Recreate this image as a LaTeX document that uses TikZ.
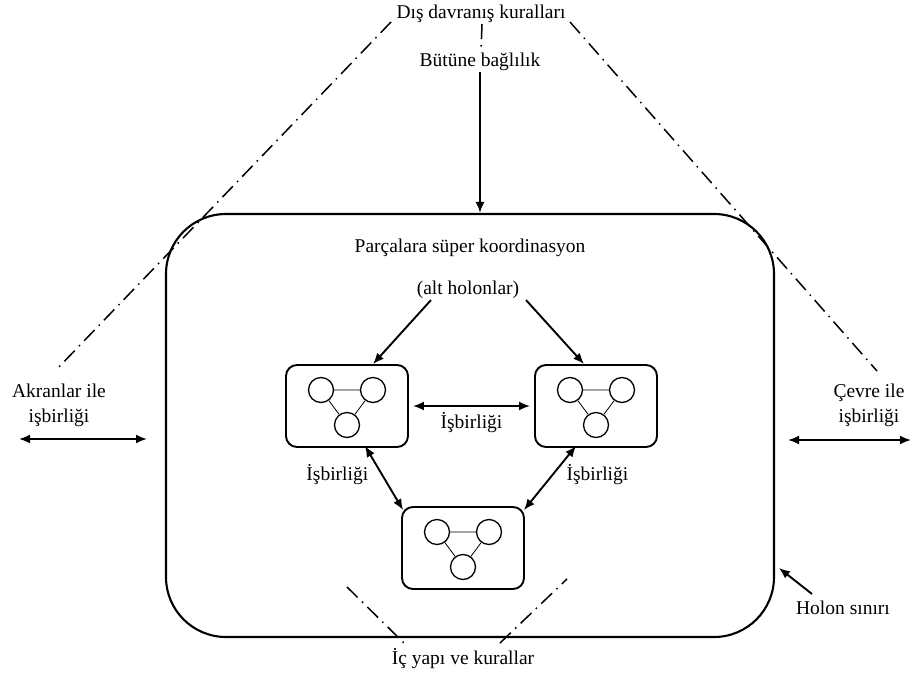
\documentclass[tikz,border=0pt]{standalone}
\usepackage{fontspec}
\setmainfont{Liberation Serif}
\usetikzlibrary{arrows.meta}
\tikzset{
	lbl/.style={font=\fontsize{19.5}{25}\selectfont,inner sep=1pt,align=center},
	holon/.style={draw,line width=1.9pt,rounded corners=11pt,minimum width=122pt,minimum height=82pt},
	part/.style={draw,line width=1.3pt,circle,minimum size=25pt,inner sep=0pt},
	dashdot/.style={line width=1.5pt,dash pattern=on 15pt off 6pt on 1.5pt off 6pt},
	arr/.style={line width=1.9pt,-{Latex[length=11pt,width=9pt]}},
	darr/.style={line width=1.9pt,{Latex[length=11pt,width=9pt]}-{Latex[length=11pt,width=9pt]}}
}
\begin{document}
\begin{tikzpicture}[x=1pt,y=-1pt]
	\useasboundingbox (0,0) rectangle (912,677);
	% outer holon boundary
	\node[draw,line width=2.1pt,rounded corners=60pt,minimum width=608pt,minimum height=423pt] (whole) at (470,425.5) {};
	% texts
	\node[lbl] (dis) at (481,14) {Dış davranış kuralları};
	\node[lbl] (butun) at (480,62) {Bütüne bağlılık};
	\node[lbl] (koord) at (470,248) {Parçalara süper koordinasyon};
	\node[lbl] (alt) at (468,290) {(alt holonlar)};
	\node[lbl] (akran) at (59,405) {Akranlar ile\\işbirliği};
	\node[lbl] (cevre) at (869,405) {Çevre ile\\işbirliği};
	\node[lbl] (sinir) at (843,608) {Holon sınırı};
	\node[lbl] (ic) at (463,659) {İç yapı ve kurallar};
	% sub holons
	\node[holon] (h1) at (347,406) {};
	\node[holon] (h2) at (596,406) {};
	\node[holon] (h3) at (463,548) {};
	\foreach \h in {h1,h2,h3}{
		\node[part] (\h a) at ([shift={(-26pt,16pt)}]\h.center) {};
		\node[part] (\h b) at ([shift={(26pt,16pt)}]\h.center) {};
		\node[part] (\h c) at ([shift={(0pt,-19pt)}]\h.center) {};
		\draw[line width=0.8pt] (\h a) -- (\h b) (\h a) -- (\h c) (\h b) -- (\h c);
	}
	% rules lines
	\coordinate (ltop) at (391,22);
	\coordinate (rtop) at (570,22);
	\coordinate (lend) at (57,369);
	\coordinate (rend) at (877,371);
	\coordinate (bl1) at (347,587);
	\coordinate (bl2) at (406,645);
	\coordinate (br1) at (567,579);
	\coordinate (br2) at (500,643);
	\draw[dashdot] (ltop) -- (lend);
	\draw[dashdot] (rtop) -- (rend);
	\draw[dashdot] ([xshift=1pt]dis.south) -- ([xshift=1pt]butun.north);
	\draw[dashdot] (bl1) -- (bl2);
	\draw[dashdot] (br2) -- (br1);
	% arrows
	\draw[arr] (butun.south) -- (whole.north -| butun.south);
	\draw[arr] ([xshift=-37pt]alt.south) -- ([xshift=26pt]h1.north);
	\draw[arr] ([xshift=58pt]alt.south) -- ([xshift=-12pt]h2.north);
	\draw[darr] ([xshift=4pt]h1.east) -- ([xshift=-4pt]h2.west) node[lbl,midway,below=4pt] {İşbirliği};
	\draw[darr] ([shift={(18pt,2pt)}]h1.south) -- ([shift={(2pt,-4pt)}]h3.north west) node[lbl,pos=0.45,left=12pt] {İşbirliği};
	\draw[darr] ([shift={(-20pt,2pt)}]h2.south) -- ([shift={(-1pt,-4pt)}]h3.north east) node[lbl,pos=0.45,right=12pt] {İşbirliği};
	\coordinate (la) at (19,439);
	\coordinate (lb) at (147,439);
	\coordinate (ra) at (788,440);
	\coordinate (rb) at (911,440);
	\draw[darr] (la) -- (lb);
	\draw[darr] (ra) -- (rb);
	\coordinate (sa) at (812,594);
	\coordinate (sb) at (779,568);
	\draw[arr] (sa) -- (sb);
\end{tikzpicture}
\end{document}
